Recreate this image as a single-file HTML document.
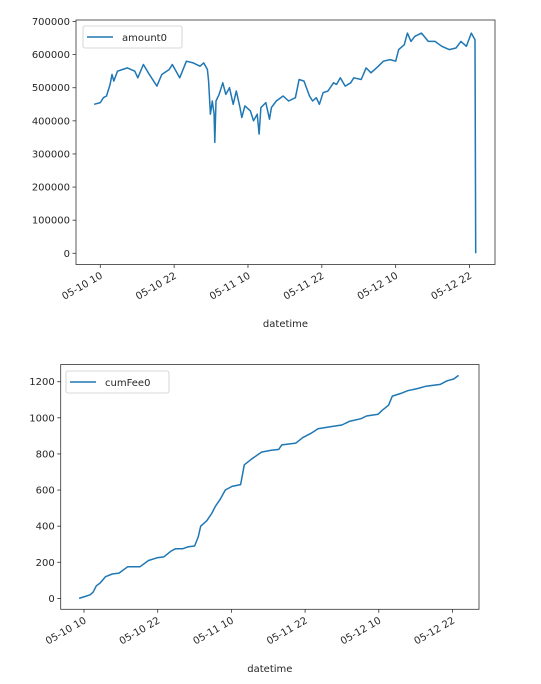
<!DOCTYPE html>
<html><head><meta charset="utf-8"><style>
html,body{margin:0;padding:0;background:#fff;width:541px;height:684px;overflow:hidden}
svg text{font-family:"DejaVu Sans","Liberation Sans",sans-serif;font-size:10px;fill:#262626}
</style></head><body>
<svg id="svg" width="541" height="684" xmlns="http://www.w3.org/2000/svg"></svg>
<script>
const amtHours=[9,10,10.5,11,11.6,11.9,12.2,12.8,13.6,14.4,15.6,16.1,17,17.8,19.2,20,21.2,21.7,22.9,24,25.1,26.2,26.8,27.4,27.6,27.9,28.2,28.5,28.6,28.8,29.3,29.9,30.4,31,31.6,32.1,32.7,33,33.5,34.4,34.9,35.5,35.8,36.1,36.9,37.5,37.8,38.6,39.7,40.6,41.7,42.3,43.1,44,44.5,45.1,45.6,46.2,47,47.9,48.4,49,49.8,50.7,51.2,52.4,53.2,54,55.2,56,57.1,58,58.5,59.4,59.9,60.5,61.1,62.2,63.3,64.4,65.5,66.7,67.8,68.6,69.5,70.3,70.9,71];
const amtValues=[450000,455000,470000,475000,510000,540000,520000,550000,555000,560000,550000,530000,570000,545000,505000,540000,555000,570000,530000,580000,575000,565000,575000,555000,520000,420000,460000,420000,335000,460000,480000,515000,480000,500000,450000,490000,440000,410000,445000,430000,400000,420000,360000,440000,455000,405000,440000,460000,475000,460000,470000,525000,520000,475000,460000,470000,450000,485000,490000,515000,510000,530000,505000,515000,530000,525000,560000,545000,565000,580000,585000,580000,615000,630000,665000,640000,655000,665000,640000,640000,625000,615000,620000,640000,625000,665000,645000,0];
const feeHours=[9.2,10.1,11,11.5,12,12.6,13.5,14.6,15.7,17.1,19.1,20.5,21.9,23,24.1,24.9,26.1,26.9,28,28.6,29,30,30.8,31.4,32.2,33,34.1,35.5,36.1,37.2,38.9,40.5,41.7,42.2,44.5,45.6,47,48.1,50.1,52,53.2,55.1,56,57.9,58.5,59.6,60.2,61.6,62.7,64.1,65.7,68,69.1,70.2,71];
const feeValues=[0,10,20,35,70,85,120,135,140,175,175,210,225,230,260,275,275,285,290,340,400,430,470,510,550,600,620,630,740,770,810,820,825,850,860,890,915,940,950,960,980,995,1010,1020,1040,1070,1120,1135,1150,1160,1175,1185,1205,1215,1235];
const xTickHours=[10,22,34,46,58,70];
const xTickLabels=["05-10 10","05-10 22","05-11 10","05-11 22","05-12 10","05-12 22"];
const amtTicks=[0,100000,200000,300000,400000,500000,600000,700000];
const feeTicks=[0,200,400,600,800,1000,1200];

const NS="http://www.w3.org/2000/svg";
const svg=document.getElementById('svg');
function mk(tag,attrs,parent){const e=document.createElementNS(NS,tag);for(const k in attrs)e.setAttribute(k,attrs[k]);(parent||svg).appendChild(e);return e;}

function chart(cfg){
  const g=mk('g',{});
  
  
  const xs=h=>cfg.tx0+(h-10)*(cfg.tx1-cfg.tx0)/60;
  const ys=v=>cfg.yv0+(v-0)*(cfg.yvTop-cfg.yv0)/cfg.vTop;
  // ticks y
  cfg.yTicks.forEach(v=>{
    const y=ys(v);
    const t=mk('line',{x1:cfg.x0-3.5,x2:cfg.x0,y1:y,y2:y,stroke:'#333','stroke-width':0.8},g);
    
    
    const tx=mk('text',{x:cfg.x0-6,y:y+3.5,'text-anchor':'end'},g);
    tx.textContent=v;
    
    
  });
  xTickHours.forEach((h,i)=>{
    const x=xs(h);
    const t=mk('line',{x1:x,x2:x,y1:cfg.y1,y2:cfg.y1+3.5,stroke:'#333','stroke-width':0.8},g);
    
    
    const tx=mk('text',{x:x+3,y:cfg.y1+13,'text-anchor':'end',transform:`rotate(-30 ${x+3} ${cfg.y1+13})`},g);
    tx.textContent=xTickLabels[i];
    
    
  });
  const d=cfg.hours.map((h,i)=>(i?'L':'M')+xs(h).toFixed(1)+' '+ys(cfg.values[i]).toFixed(1)).join(' ');
  const p=mk('path',{d:d,fill:'none',stroke:'#1f77b4','stroke-width':1.5,'stroke-linejoin':'round'},g);
  
  
  const fr=mk('rect',{x:cfg.x0,y:cfg.y0,width:cfg.x1-cfg.x0,height:cfg.y1-cfg.y0,fill:'none',stroke:'#333','stroke-width':0.8},g);
  
  
  const lg=mk('g',{},g);
  
  
  mk('rect',{x:cfg.lx,y:cfg.ly,width:cfg.lw,height:22,rx:2,fill:'#fff',stroke:'#ccc','stroke-width':0.8},lg);
  mk('line',{x1:cfg.lx+4,x2:cfg.lx+30,y1:cfg.ly+11,y2:cfg.ly+11,stroke:'#1f77b4','stroke-width':1.5},lg);
  const lt=mk('text',{x:cfg.lx+39,y:cfg.ly+15},lg);
  lt.textContent=cfg.series;
  
  
  const xl=mk('text',{x:(cfg.x0+cfg.x1)/2,y:cfg.xly,'text-anchor':'middle'},g);
  xl.textContent='datetime';
  
  
}
chart({name:'amount-chart',series:'amount0',x0:76,x1:495,y0:20,y1:264.5,tx0:100.3,tx1:469.5,yv0:253.3,yvTop:21.5,vTop:700000,
  yTicks:amtTicks,hours:amtHours,values:amtValues,lx:83,ly:26,lw:99,xly:327});
chart({name:'cumfee-chart',series:'cumFee0',x0:60.7,x1:479,y0:364.5,y1:609.3,tx0:84,tx1:452.5,yv0:598.4,yvTop:381.7,vTop:1200,
  yTicks:feeTicks,hours:feeHours,values:feeValues,lx:66,ly:371,lw:103,xly:672});
</script>
</body></html>
